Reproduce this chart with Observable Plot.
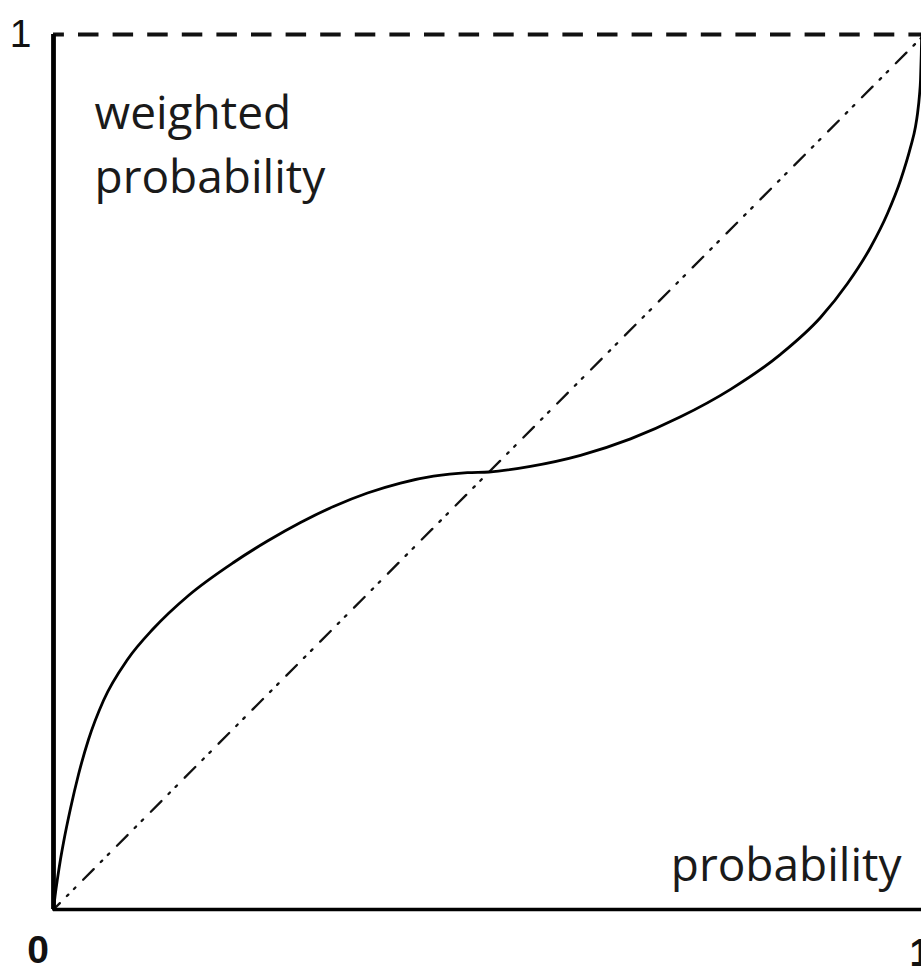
<!DOCTYPE html>
<html>
<head>
<meta charset="utf-8">
<script src="https://cdn.jsdelivr.net/npm/d3@7"></script>
<script src="https://cdn.jsdelivr.net/npm/@observablehq/plot@0.6"></script>
<style>
html, body { margin: 0; padding: 0; background: #fff; overflow: hidden; }
</style>
</head>
<body>
<div id="chart"></div>
<script>
// Probability weighting curve
const probability = [0, 0.0023, 0.0046, 0.0080, 0.0115, 0.0195, 0.0287, 0.0402, 0.0574, 0.0850, 0.1148, 0.1550, 0.2067, 0.2457, 0.2836, 0.3215, 0.3605, 0.3984, 0.4363, 0.4753, 0.5000,
  0.5476, 0.6051, 0.6625, 0.7199, 0.7773, 0.8347, 0.8806, 0.9116, 0.9380, 0.9575, 0.9724, 0.9839, 0.9897, 0.9920, 0.9943, 0.9954, 0.9963, 0.9968];
const weightedProbability = [0, 0.0194, 0.0354, 0.0571, 0.0766, 0.1154, 0.1543, 0.1943, 0.2389, 0.2857, 0.3211, 0.3589, 0.3966, 0.4211, 0.4423, 0.4606, 0.4760, 0.4874, 0.4952, 0.4992, 0.5000,
  0.5065, 0.5191, 0.5379, 0.5631, 0.5945, 0.6345, 0.6766, 0.7154, 0.7566, 0.7954, 0.8331, 0.8709, 0.8949, 0.9097, 0.9314, 0.9474, 0.9771, 1];
const diagonal = [0, 1];
const xTickValues = [0, 1];
const yTickValues = [1];
const yAxisLabel = "weighted\nprobability";
const xAxisLabel = "probability";

const curveData = probability.map((p, i) => ({p, w: weightedProbability[i]}));

const chart = Plot.plot({
  width: 921,
  height: 967,
  marginLeft: 53,
  marginRight: -3,
  marginTop: 34,
  marginBottom: 58,
  x: {domain: [0, 1], axis: null},
  y: {domain: [0, 1], axis: null},
  style: {background: "#fff", overflow: "hidden"},
  marks: [
    Plot.line(diagonal, {x: d => d, y: d => d, stroke: "#111", strokeWidth: 2.3,
      strokeDasharray: "15,10,2,8,2,11", strokeDashoffset: 6}),
    Plot.ruleY([1], {stroke: "#111", strokeWidth: 4, strokeDasharray: "20.5,14.1", strokeDashoffset: 9.6}),
    Plot.ruleX([0], {stroke: "#000", strokeWidth: 4.8}),
    Plot.ruleY([0], {stroke: "#000", strokeWidth: 3.5}),
    Plot.line(curveData, {x: "p", y: "w", curve: "monotone-x", stroke: "#000", strokeWidth: 2.8}),
    Plot.text([yAxisLabel], {frameAnchor: "top-left", text: d => d, textAnchor: "start", lineAnchor: "bottom",
      lineHeight: 1.39, dx: 41, dy: 158, fontSize: 46, fontFamily: "Open Sans", fill: "#1a1a1a"}),
    Plot.text([xAxisLabel], {frameAnchor: "bottom-right", text: d => d, textAnchor: "end", lineAnchor: "bottom",
      dx: -23, dy: -29, fontSize: 46, fontFamily: "Open Sans", fill: "#1a1a1a"}),
    Plot.text(yTickValues, {x: () => 0, y: d => d, text: d => String(d), textAnchor: "middle", lineAnchor: "bottom",
      dx: -33, dy: 12, fontSize: 39, fontFamily: "Liberation Sans", fill: "#111"}),
    Plot.text(xTickValues.filter(v => v === 0), {x: d => d, y: () => 0, text: d => String(d), textAnchor: "middle", lineAnchor: "bottom",
      dx: -15.5, dy: 53, fontSize: 39, fontWeight: "bold", fontFamily: "Liberation Sans", fill: "#111"}),
    Plot.text(xTickValues.filter(v => v === 1), {x: d => d, y: () => 0, text: d => String(d), textAnchor: "start", lineAnchor: "bottom",
      dx: -15, dy: 56, fontSize: 39, fontWeight: "bold", fontFamily: "Liberation Sans", fill: "#111"})
  ]
});
document.getElementById("chart").appendChild(chart);
</script>
</body>
</html>
